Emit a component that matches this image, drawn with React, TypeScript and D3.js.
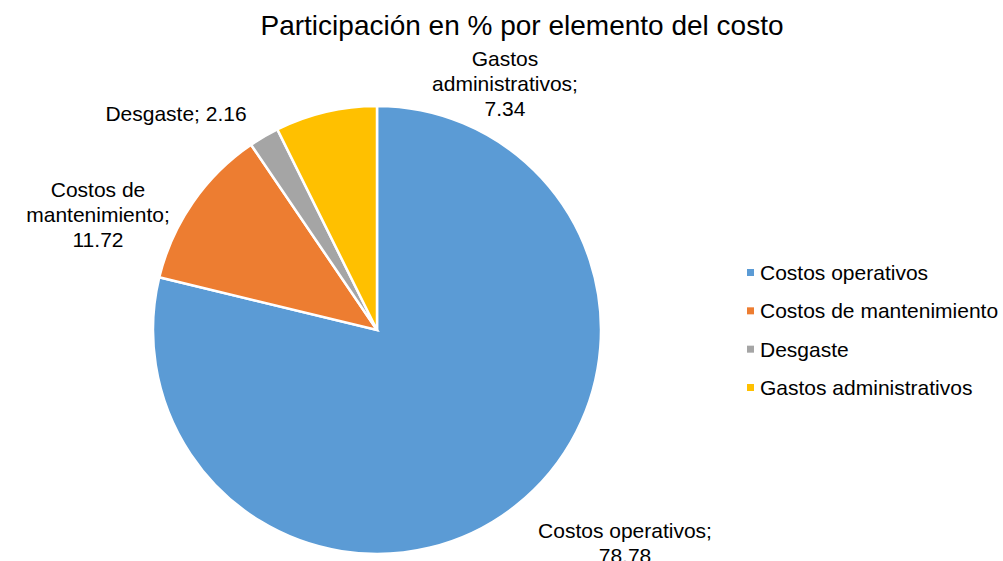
import * as d3 from 'd3';

const categories = ['Costos operativos', 'Costos de mantenimiento', 'Desgaste', 'Gastos administrativos'];
const values = [78.78, 11.72, 2.16, 7.34];
const colors = ['#5B9BD5', '#ED7D31', '#A5A5A5', '#FFC000'];
const labelLines = [
  ['Costos operativos;', '78.78'],
  ['Costos de', 'mantenimiento;', '11.72'],
  ['Desgaste; 2.16'],
  ['Gastos', 'administrativos;', '7.34'],
];

// label centre offsets from the pie centre (Excel "best fit" placement)
const labelOffsets: [number, number][] = [
  [248, 213],
  [-279, -115],
  [-201, -216],
  [128, -246],
];

const width = 1003;
const height = 561;
const cx = 377;
const cy = 330;
const radius = 224;
const font = "'Liberation Sans', Arial, sans-serif";

export default function App() {
  const pie = d3.pie<number>().sort(null).value((d) => d);
  const arcs = pie(values);
  const arc = d3.arc<d3.PieArcDatum<number>>().innerRadius(0).outerRadius(radius);
  const color = d3.scaleOrdinal<string, string>().domain(categories).range(colors);
  const legendY = d3.scalePoint<string>().domain(categories).range([273, 388]);
  const lineH = 25;

  return (
    <div style={{ position: 'absolute', left: 0, top: 0 }}>
      <svg width={width} height={height} style={{ display: 'block', fontFamily: font }}>
        <rect width={width} height={height} fill="#fff" />
        <text x={522} y={35} textAnchor="middle" fontSize={28} fill="#000">
          Participación en % por elemento del costo
        </text>
        <g transform={`translate(${cx},${cy})`}>
          {arcs.map((a, i) => (
            <path key={i} d={arc(a) ?? ''} fill={color(categories[i])} stroke="#fff" strokeWidth={2.5} />
          ))}
          {arcs.map((a, i) => {
            const [ox, oy] = labelOffsets[i];
            const lines = labelLines[i];
            const top = oy - ((lines.length - 1) * lineH) / 2;
            return (
              <text key={i} textAnchor="middle" fontSize={21} fill="#000">
                {lines.map((l, j) => (
                  <tspan key={j} x={ox} y={top + j * lineH + 7}>
                    {l}
                  </tspan>
                ))}
              </text>
            );
          })}
        </g>
        <g>
          {categories.map((c) => (
            <g key={c} transform={`translate(747,${legendY(c)})`}>
              <rect x={0} y={-4} width={7} height={7} fill={color(c)} />
              <text x={13} y={7} fontSize={21} fill="#000">
                {c}
              </text>
            </g>
          ))}
        </g>
      </svg>
    </div>
  );
}
